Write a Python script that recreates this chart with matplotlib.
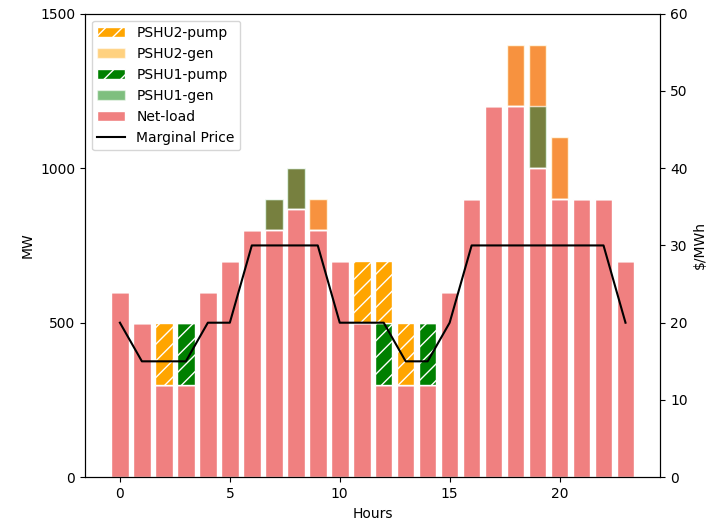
import numpy as np
import matplotlib
matplotlib.use("Agg")
import matplotlib.pyplot as plt

hours = np.arange(24)
net_load = np.array([600, 500, 300, 300, 600, 700, 800, 800, 867, 800, 700, 500,
                     300, 300, 300, 600, 900, 1200, 1200, 1000, 900, 900, 900, 700])
pshu1_gen = np.array([0, 0, 0, 0, 0, 0, 0, 100, 133, 0, 0, 0,
                      0, 0, 0, 0, 0, 0, 0, 200, 0, 0, 0, 0])
pshu2_gen = np.array([0, 0, 0, 0, 0, 0, 0, 0, 0, 100, 0, 0,
                      0, 0, 0, 0, 0, 0, 200, 200, 200, 0, 0, 0])
pshu1_pump = np.array([0, 0, 0, 200, 0, 0, 0, 0, 0, 0, 0, 0,
                       200, 0, 200, 0, 0, 0, 0, 0, 0, 0, 0, 0])
pshu2_pump = np.array([0, 0, 200, 0, 0, 0, 0, 0, 0, 0, 0, 200,
                       200, 200, 0, 0, 0, 0, 0, 0, 0, 0, 0, 0])
price = [20, 15, 15, 15, 20, 20, 30, 30, 30, 30, 20, 20,
         20, 15, 15, 20, 30, 30, 30, 30, 30, 30, 30, 20]

fig, ax = plt.subplots(figsize=(7.14, 5.25), dpi=100)
plt.rcParams['hatch.color'] = 'white'

# net load bar spans the full demand, gen sits on top of the net part
demand = net_load + pshu1_gen + pshu2_gen
b_net = ax.bar(hours, demand, color='lightcoral', edgecolor='white', label='Net-load')
b_g1 = ax.bar(hours, pshu1_gen, bottom=net_load, color='green', alpha=0.5,
              edgecolor='white', label='PSHU1-gen')
b_g2 = ax.bar(hours, pshu2_gen, bottom=net_load + pshu1_gen, color='orange', alpha=0.5,
              edgecolor='white', label='PSHU2-gen')
b_p1 = ax.bar(hours, pshu1_pump, bottom=net_load, color='green', hatch='//',
              edgecolor='white', label='PSHU1-pump')
b_p2 = ax.bar(hours, pshu2_pump, bottom=net_load + pshu1_pump, color='orange', hatch='//',
              edgecolor='white', label='PSHU2-pump')
ax.set_ylim(0, 1500)
ax.set_yticks([0, 500, 1000, 1500])
ax.set_ylabel('MW')
ax.set_xlabel('Hours')

ax2 = ax.twinx()
l_p, = ax2.plot(hours, price, color='black', label='Marginal Price')
ax2.set_ylim(0, 60)
ax2.set_ylabel(r'\$/MWh')

ax.legend([b_p2, b_g2, b_p1, b_g1, b_net, l_p],
          ['PSHU2-pump', 'PSHU2-gen', 'PSHU1-pump', 'PSHU1-gen', 'Net-load', 'Marginal Price'],
          loc='upper left')

plt.subplots_adjust(left=0.119, right=0.925, top=0.974, bottom=0.091)
plt.savefig('out.png')
